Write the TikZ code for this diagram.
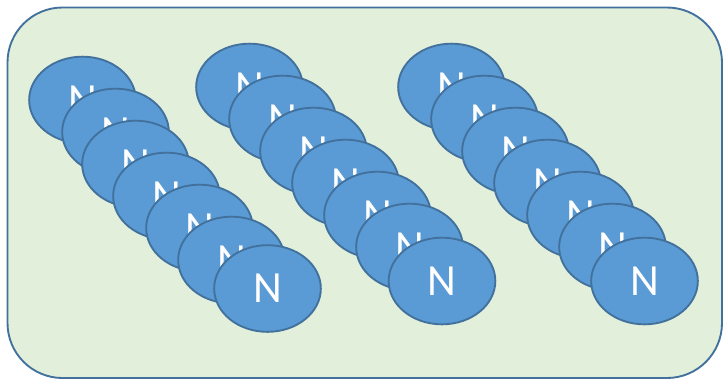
\documentclass[tikz,border=0pt]{standalone}
\usepackage{fontspec}
\setmainfont{Carlito}
\usetikzlibrary{shapes.geometric}

\definecolor{framefill}{HTML}{E2EFDA}
\definecolor{frameline}{HTML}{41719C}
\definecolor{cellfill}{HTML}{5B9BD5}
\definecolor{cellline}{HTML}{41719C}

\begin{document}
\begin{tikzpicture}[x=0.03cm, y=-0.03cm,
		cell/.style={ellipse, draw=cellline, fill=cellfill, line width=1.6pt,
			minimum width=3.2cm, minimum height=2.6cm, inner sep=0pt,
			text=white, font=\fontsize{38}{40}\selectfont}]
			\useasboundingbox (0,0) rectangle (723,380);
			
			% Frame
			\filldraw[fill=framefill, draw=frameline, line width=1.6pt, rounded corners=1.65cm] (7.5,7.5) rectangle (722,378);
			
			% First stack
			\node[cell] (a1) at (82.5,100) {N};
			\node[cell] (a2) at (115.5,132) {N};
			\node[cell] (a3) at (135.5,164) {N};
			\node[cell] (a4) at (166.5,196) {N};
			\node[cell] (a5) at (199.5,228) {N};
			\node[cell] (a6) at (231.5,260) {N};
			\node[cell] (a7) at (267.5,288.5) {N};
			
			% Second stack
			\node[cell] (b1) at (249.5,87) {N};
			\node[cell] (b2) at (282.5,119) {N};
			\node[cell] (b3) at (313.5,151) {N};
			\node[cell] (b4) at (345.5,183) {N};
			\node[cell] (b5) at (377.5,215) {N};
			\node[cell] (b6) at (409.5,247) {N};
			\node[cell] (b7) at (442,281) {N};
			
			% Third stack
			\node[cell] (c1) at (451.5,87) {N};
			\node[cell] (c2) at (484.5,119) {N};
			\node[cell] (c3) at (515.5,151) {N};
			\node[cell] (c4) at (547.5,183) {N};
			\node[cell] (c5) at (580.5,215) {N};
			\node[cell] (c6) at (612.5,247) {N};
			\node[cell] (c7) at (644.5,281) {N};
			
		\end{tikzpicture}
\end{document}
